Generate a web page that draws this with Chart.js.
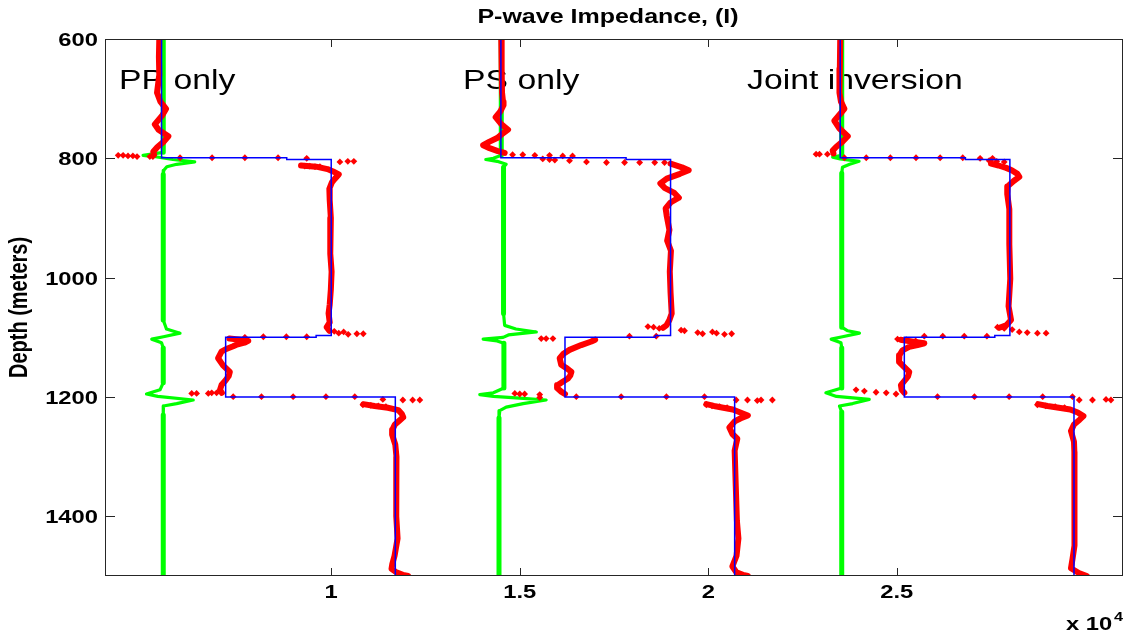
<!DOCTYPE html>
<html>
<head>
<meta charset="utf-8">
<script src="https://cdn.jsdelivr.net/npm/chart.js@4.4.1/dist/chart.umd.min.js"></script>
<style>
    body { margin: 0; background: white; }
    canvas { display: block; }
</style>
</head>
<body>
<canvas id="chartImpedance" width="1128" height="636"></canvas>
<script>
// true model (step profile), shifted per panel
const panelOffset = [0, 9000, 18000]
const modelDepth = [600, 799, 799, 802, 802, 1097, 1097, 1100, 1100, 1200, 1200, 1500]
const modelImp = [5500, 5500, 8820, 8820, 10000, 10000, 9600, 9600, 7200, 7200, 11700, 11700]

// green curves
const ppGreenDepth = [600, 790, 795, 797, 802, 806, 810, 814, 820, 827, 1071, 1086, 1093, 1099, 1103, 1109, 1118, 1176, 1188, 1195, 1199, 1205, 1211, 1215, 1230, 1500]
const ppGreenImp = [5545, 5545, 5010, 5300, 5800, 6380, 5900, 5640, 5560, 5545, 5545, 5630, 5990, 5550, 5240, 5500, 5545, 5545, 5460, 5100, 5400, 6340, 5900, 5550, 5545, 5545]
const psGreenDepth = [600, 795, 800, 802, 805, 810, 815, 1060, 1080, 1086, 1091, 1096, 1100, 1103, 1106, 1110, 1185, 1193, 1196, 1199, 1202, 1205, 1211, 1217, 1223, 1235, 1500]
const psGreenImp = [14510, 14510, 14300, 14100, 14400, 14640, 14570, 14570, 14600, 14900, 15440, 14700, 14560, 14030, 14400, 14580, 14580, 14300, 13940, 14300, 15000, 15700, 15090, 14640, 14470, 14450, 14450]
const jiGreenDepth = [600, 795, 798, 801, 805, 810, 815, 825, 1083, 1089, 1093, 1099, 1103, 1109, 1118, 1185, 1193, 1199, 1204, 1211, 1215, 1225, 1500]
const jiGreenImp = [23540, 23540, 23300, 23500, 24000, 23750, 23560, 23540, 23540, 23700, 24010, 23560, 23260, 23520, 23540, 23540, 23120, 23400, 24270, 23830, 23480, 23540, 23540]

// inverted impedance, null breaks the curve at each interface
const ppRedDepth = [600, 630, 660, 690, 705, 717, 728, 743, 752, 763, 772, 781, 789, 794, null,
    812, 814, 818, 822, 827, 834, 840, 851, 870, 900, 930, 960, 990, 1020, 1045, 1060, 1075, 1083, 1089, null,
    1102, 1104, 1106, 1109, 1112, 1115, 1120, 1124, 1135, 1147, 1158, 1165, 1172, 1180, 1188, 1193, null,
    1212, 1215, 1218, 1222, 1228, 1234, 1240, 1246, 1255, 1263, 1280, 1300, 1350, 1400, 1437, 1466, 1480, 1488, 1494, 1498, 1500]
const ppRedImp = [5440, 5430, 5440, 5380, 5470, 5620, 5520, 5320, 5420, 5680, 5560, 5390, 5280, 5300, null,
    9200, 9600, 9900, 10050, 10200, 10100, 10020, 9950, 9960, 9990, 9970, 9980, 10010, 9990, 9960, 9930, 9960, 9880, 9950, null,
    7300, 7600, 7800, 7700, 7500, 7400, 7200, 7090, 7000, 7130, 7310, 7280, 7200, 7090, 7050, 7100, null,
    10850, 11150, 11500, 11780, 11870, 11910, 11800, 11690, 11620, 11615, 11700, 11730, 11720, 11730, 11760, 11680, 11620, 11600, 11730, 11900, 12040]
const psRedDepth = [600, 650, 690, 705, 711, 722, 731, 742, 752, 760, 766, 772, 778, 783, 788, 791, null,
    809, 815, 820, 826, 834, 842, 850, 858, 866, 874, 884, 897, 920, 938, 955, 990, 1025, 1060, 1071, 1080, 1084, null,
    1104, 1107, 1113, 1121, 1128, 1135, 1146, 1152, 1158, 1164, 1169, 1175, 1180, 1185, 1191, 1195, null,
    1212, 1215, 1218, 1221, 1226, 1231, 1236, 1241, 1251, 1262, 1270, 1290, 1350, 1408, 1437, 1466, 1484, 1494, 1498, 1500]
const psRedImp = [14510, 14520, 14530, 14556, 14570, 14480, 14360, 14500, 14690, 14520, 14400, 14200, 14030, 14200, 14420, 14600, null,
    19000, 19300, 19480, 19250, 18900, 18730, 18850, 19100, 19220, 19000, 18870, 18900, 18970, 18910, 19010, 18980, 19000, 19030, 18970, 18890, 18800, null,
    17000, 16900, 16630, 16320, 16150, 16060, 16100, 16250, 16370, 16340, 16280, 16130, 16010, 15990, 16100, 16200, null,
    19950, 20150, 20400, 20650, 20850, 21050, 20850, 20700, 20560, 20640, 20770, 20700, 20730, 20760, 20800, 20750, 20640, 20750, 20920, 21050]
const jiRedDepth = [600, 650, 690, 705, 717, 727, 737, 750, 763, 772, 781, 787, 792, null,
    809, 812, 816, 820, 826, 831, 838, 847, 860, 885, 944, 1002, 1048, 1071, 1080, 1084, null,
    1104, 1107, 1110, 1113, 1116, 1122, 1130, 1141, 1150, 1158, 1165, 1170, 1180, 1188, 1193, null,
    1212, 1215, 1218, 1221, 1226, 1232, 1238, 1246, 1257, 1275, 1292, 1350, 1408, 1449, 1472, 1487, 1495, 1500]
const jiRedImp = [23500, 23490, 23480, 23520, 23610, 23480, 23345, 23480, 23700, 23560, 23390, 23300, 23320, null,
    27500, 27700, 27900, 28050, 28200, 28250, 28100, 27940, 27930, 27985, 27985, 28010, 27965, 28030, 27900, 27720, null,
    25100, 25400, 25730, 25550, 25330, 25150, 25070, 25060, 25200, 25330, 25300, 25240, 25110, 25130, 25200, null,
    28750, 29000, 29300, 29600, 29800, 29950, 29850, 29700, 29620, 29700, 29710, 29710, 29710, 29720, 29660, 29620, 29830, 30040]

// scattered samples across the jumps
const ppDotDepth = [795, 795, 796, 796, 797, 797, 797, 799, 799, 799, 799, 800, 806, 805, 805, 813, 813, 814, 814,
    1090, 1093, 1091, 1095, 1094, 1094, 1099, 1099, 1099, 1100, 1193, 1193, 1194, 1194, 1194,
    1199.5, 1199.5, 1199.5, 1199.5, 1199.5, 1204, 1205, 1205, 1205, 1213, 1214, 1215, 1216]
const ppDotImp = [4350, 4480, 4610, 4740, 4850, 5190, 5270, 5990, 6840, 7710, 8590, 9350, 10230, 10440, 10600, 9300, 9430, 9570, 9700,
    10080, 10200, 10330, 10450, 10680, 10850, 9350, 8810, 8200, 7710, 6960, 6830, 6740, 6430, 6300,
    7400, 8150, 8990, 9860, 10625, 11370, 11900, 12160, 12350, 10840, 11050, 11250, 11450]
const psDotDepth = [794, 794, 795, 795, 796, 796, 801, 802, 803, 804, 806, 807, 807, 807, 807, 807,
    1082, 1083, 1085, 1088, 1089, 1092, 1094, 1091, 1093, 1095, 1094, 1098, 1098, 1102, 1102, 1102,
    1194, 1195, 1195, 1196, 1201, 1199.5, 1199.5, 1199.5, 1199.5, 1205, 1205, 1206, 1205, 1205, 1213, 1215, 1216, 1218]
const psDotImp = [14810, 15080, 15400, 15790, 16140, 16400, 15610, 15790, 15930, 16320, 16770, 17300, 17780, 18180, 18580, 18840,
    18400, 18550, 18700, 19280, 19370, 19720, 19850, 20110, 20220, 20430, 20620, 17910, 18620, 15570, 15700, 15880,
    14870, 15000, 15130, 15530, 15530, 16500, 17690, 18890, 19900, 20740, 21040, 21300, 21400, 21700, 19950, 20100, 20300, 20500]
const jiDotDepth = [793, 793, 793, 799, 799, 799, 799, 799, 799, 800, 800, 804, 805, 806,
    1083, 1085, 1087, 1091, 1092, 1093, 1093, 1098, 1098, 1098, 1098, 1103, 1104, 1106,
    1188, 1190, 1192, 1193, 1195, 1199.5, 1199.5, 1199.5, 1199.5, 1199.5, 1205, 1205, 1204, 1205, 1213, 1215, 1216, 1218]
const jiDotImp = [22860, 22950, 23160, 23610, 24190, 24830, 25510, 26150, 26750, 27210, 27540, 27450, 27650, 27850,
    27670, 27850, 28060, 28250, 28460, 28730, 28960, 27390, 26790, 26220, 25730, 25020, 25250, 25500,
    23920, 24140, 24450, 24720, 24980, 26080, 27060, 27980, 28870, 29660, 29840, 30190, 30550, 30680, 28730, 28950, 29200, 29450]

// axis ticks
const xTicks = [10000, 15000, 20000, 25000]
const xTickLabels = ["1", "1.5", "2", "2.5"]
const yTicks = [600, 800, 1000, 1200, 1400]

const panelLabels = ["PP only", "PS only", "Joint inversion"]
const panelLabelX = [119, 463, 747]

const STRETCH = 1.25
const FONT = "'Liberation Sans', Arial, sans-serif"

let toPoints = (imp, depth, shift = 0) => {
    return imp.map((v, i) => ({ x: v === null ? null : v + shift, y: depth[i] }))
}

let wideText = (ctx, text, x, y, font, align = "left", baseline = "alphabetic") => {
    ctx.save()
    ctx.font = font
    ctx.textAlign = align
    ctx.textBaseline = baseline
    ctx.fillStyle = "#000"
    ctx.translate(x, y)
    ctx.scale(STRETCH, 1)
    ctx.fillText(text, 0, 0)
    ctx.restore()
}

let datasets = []
let greens = [[ppGreenImp, ppGreenDepth], [psGreenImp, psGreenDepth], [jiGreenImp, jiGreenDepth]]
let reds = [[ppRedImp, ppRedDepth], [psRedImp, psRedDepth], [jiRedImp, jiRedDepth]]
let dots = [[ppDotImp, ppDotDepth], [psDotImp, psDotDepth], [jiDotImp, jiDotDepth]]

for (let p = 0; p < 3; p++) {
    datasets.push({
        data: toPoints(greens[p][0], greens[p][1]),
        showLine: true, borderColor: "#00ff00", borderWidth: 5, pointRadius: 0, order: 4,
        borderJoinStyle: "round",
        // the kinks at the interfaces are thinner than the straight trace
        segment: {
            borderWidth: (c) => c.p0.parsed.x === c.p1.parsed.x ? 5 : 3.2
        }
    })
    datasets.push({
        data: toPoints(reds[p][0], reds[p][1]),
        showLine: true, spanGaps: false, borderColor: "#ff0000", borderWidth: 6,
        borderJoinStyle: "round", borderCapStyle: "round", pointRadius: 0, order: 3
    })
    datasets.push({
        data: toPoints(dots[p][0], dots[p][1]),
        showLine: false, pointStyle: "rectRot", pointRadius: 3.4,
        backgroundColor: "#ff0000", borderColor: "#ff0000", borderWidth: 0, order: 2
    })
    datasets.push({
        data: toPoints(modelImp, modelDepth, panelOffset[p]),
        showLine: true, borderColor: "#0000ff", borderWidth: 1.5, pointRadius: 0, order: 1
    })
}

// labels under the curves
const panelText = {
    id: "panelText",
    beforeDatasetsDraw(chart) {
        let ctx = chart.ctx
        panelLabels.forEach((label, i) => {
            wideText(ctx, label, panelLabelX[i], 89, `27px ${FONT}`)
        })
    }
}

// box, inward ticks and axis texts
const axesFrame = {
    id: "axesFrame",
    afterDraw(chart) {
        let ctx = chart.ctx
        let area = chart.chartArea
        let x = chart.scales.x
        let y = chart.scales.y

        ctx.save()
        ctx.strokeStyle = "#262626"
        ctx.lineWidth = 1
        ctx.strokeRect(Math.round(area.left) + 0.5, Math.round(area.top) + 0.5,
            Math.round(area.right - area.left) - 1, Math.round(area.bottom - area.top) - 1)

        ctx.beginPath()
        for (let t of yTicks) {
            let py = Math.round(y.getPixelForValue(t)) + 0.5
            ctx.moveTo(area.left, py); ctx.lineTo(area.left + 10, py)
            ctx.moveTo(area.right, py); ctx.lineTo(area.right - 10, py)
        }
        for (let t of xTicks) {
            let px = Math.round(x.getPixelForValue(t)) + 0.5
            ctx.moveTo(px, area.bottom); ctx.lineTo(px, area.bottom - 8)
            ctx.moveTo(px, area.top); ctx.lineTo(px, area.top + 8)
        }
        ctx.stroke()
        ctx.restore()

        for (let t of yTicks) {
            wideText(ctx, String(t), 98, y.getPixelForValue(t) + 7, `bold 19px ${FONT}`, "right")
        }
        xTicks.forEach((t, i) => {
            wideText(ctx, xTickLabels[i], x.getPixelForValue(t), 598, `bold 19px ${FONT}`, "center")
        })

        wideText(ctx, "P-wave Impedance, (I)", 608, 23, `bold 20px ${FONT}`, "center")
        wideText(ctx, "x 10", 1066, 630, `bold 19px ${FONT}`)
        wideText(ctx, "4", 1114, 621, `bold 13px ${FONT}`)

        // rotated y title, widened across the page like the rest of the text
        ctx.save()
        ctx.font = `bold 20px ${FONT}`
        ctx.textAlign = "center"
        ctx.textBaseline = "middle"
        ctx.fillStyle = "#000"
        ctx.translate(20, (area.top + area.bottom) / 2)
        ctx.rotate(-Math.PI / 2)
        ctx.scale(1, STRETCH)
        ctx.fillText("Depth (meters)", 0, 0)
        ctx.restore()
    }
}

window.addEventListener("load", () => {
    new Chart(document.getElementById("chartImpedance"), {
        type: "scatter",
        data: { datasets: datasets },
        options: {
            responsive: false,
            animation: false,
            devicePixelRatio: 1,
            layout: { padding: { top: 39, right: 5, bottom: 0, left: 0 } },
            plugins: {
                legend: { display: false },
                tooltip: { enabled: false }
            },
            scales: {
                x: {
                    type: "linear",
                    min: 4000,
                    max: 31000,
                    grid: { display: false },
                    border: { display: false },
                    ticks: { display: false },
                    afterBuildTicks: (scale) => { scale.ticks = xTicks.map(v => ({ value: v })) },
                    afterFit: (scale) => { scale.height = 60 }
                },
                y: {
                    type: "linear",
                    reverse: true,
                    min: 600,
                    max: 1500,
                    grid: { display: false },
                    border: { display: false },
                    ticks: { display: false },
                    afterBuildTicks: (scale) => { scale.ticks = yTicks.map(v => ({ value: v })) },
                    afterFit: (scale) => { scale.width = 105 }
                }
            }
        },
        plugins: [panelText, axesFrame]
    })
})
</script>
</body>
</html>
